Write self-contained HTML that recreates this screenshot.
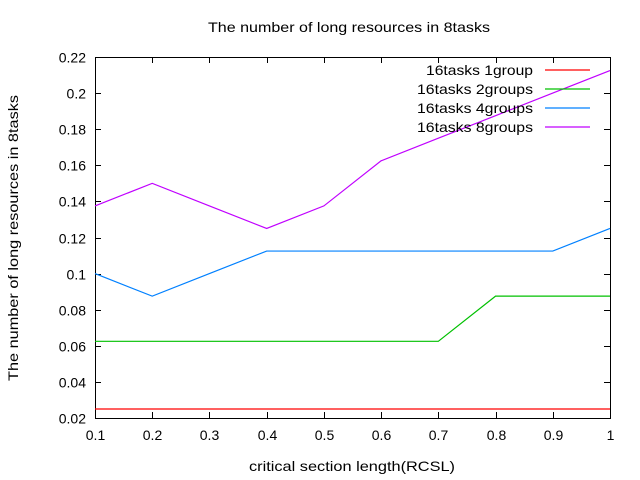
<!DOCTYPE html>
<html><head><meta charset="utf-8"><style>
body{margin:0;background:#fff;}
svg{display:block;font-family:"Liberation Sans",sans-serif;}
</style></head><body>
<svg id="c" width="640" height="480" xmlns="http://www.w3.org/2000/svg">
<text x="208" y="32" font-size="14" textLength="282" lengthAdjust="spacingAndGlyphs">The number of long resources in 8tasks</text>
<text x="249" y="471" font-size="14" textLength="206" lengthAdjust="spacingAndGlyphs">critical section length(RCSL)</text>
<text transform="translate(18,381) rotate(-90)" font-size="14" textLength="286" lengthAdjust="spacingAndGlyphs">The number of long resources in 8tasks</text>
<g id="axes"></g><g id="series"></g><g id="legend"></g>
</svg>
<script>
const xTicks=[0.1,0.2,0.3,0.4,0.5,0.6,0.7,0.8,0.9,1];
const xTickLabels=["0.1","0.2","0.3","0.4","0.5","0.6","0.7","0.8","0.9","1"];
const yTicks=[0.02,0.04,0.06,0.08,0.1,0.12,0.14,0.16,0.18,0.2,0.22];
const yTickLabels=["0.02","0.04","0.06","0.08","0.1","0.12","0.14","0.16","0.18","0.2","0.22"];
const xValues=[0.1,0.2,0.3,0.4,0.5,0.6,0.7,0.8,0.9,1];
const seriesNames=["16tasks 1group","16tasks 2groups","16tasks 4groups","16tasks 8groups"];
const s1=[0.025,0.025,0.025,0.025,0.025,0.025,0.025,0.025,0.025,0.025];
const s2=[0.0625,0.0625,0.0625,0.0625,0.0625,0.0625,0.0625,0.0875,0.0875,0.0875];
const s3=[0.1,0.0875,0.1,0.1125,0.1125,0.1125,0.1125,0.1125,0.1125,0.125];
const s4=[0.1375,0.15,0.1375,0.125,0.1375,0.1625,0.175,0.1875,0.2,0.2125];
const colors=["#ff0000","#00c000","#0080ff","#c000ff"];
const legendWidths=[107,116,116,116];
const L=95,R=610,T=57,B=418;
const xs=v=>L+(v-0.1)/0.9*(R-L);
const ys=v=>B-(v-0.02)/0.2*(B-T);
const NS="http://www.w3.org/2000/svg";
function mk(tag,attrs,parent){const e=document.createElementNS(NS,tag);for(const k in attrs)e.setAttribute(k,attrs[k]);parent.appendChild(e);return e;}
const ax=document.getElementById('axes');
const frame=mk('rect',{x:L+0.5,y:T+0.5,width:R-L,height:B-T,fill:'none',stroke:'#000','stroke-width':1},ax);


xTicks.forEach((v,i)=>{const x=Math.round(xs(v))+0.5;
 mk('line',{x1:x,y1:B,x2:x,y2:B-6,stroke:'#000'},ax);mk('line',{x1:x,y1:T,x2:x,y2:T+6,stroke:'#000'},ax);
 const t=mk('text',{x:x,y:B+22,'font-size':14,'text-anchor':'middle'},ax);t.textContent=xTickLabels[i];
 
 });
yTicks.forEach((v,i)=>{const y=Math.round(ys(v))+0.5;
 mk('line',{x1:L,y1:y,x2:L+6,y2:y,stroke:'#000'},ax);mk('line',{x1:R,y1:y,x2:R-6,y2:y,stroke:'#000'},ax);
 const t=mk('text',{x:L-9,y:y+5,'font-size':14,'text-anchor':'end'},ax);t.textContent=yTickLabels[i];
 
 });
const sg=document.getElementById('series'),lg=document.getElementById('legend');
[s1,s2,s3,s4].forEach((s,i)=>{
 const d=s.map((v,j)=>(j?'L':'M')+xs(xValues[j]).toFixed(2)+' '+ys(v).toFixed(2)).join(' ');
 const p=mk('path',{d:d,fill:'none',stroke:colors[i],'stroke-width':1.2},sg);
 
 
 const y=70+i*19;
 const t=mk('text',{x:533-legendWidths[i],y:y+5,'font-size':14,textLength:legendWidths[i],lengthAdjust:'spacingAndGlyphs'},lg);t.textContent=seriesNames[i];
 
 
 const l=mk('line',{x1:545,y1:y,x2:590,y2:y,stroke:colors[i],'stroke-width':1.2},lg);
 
 
});
</script>
</body></html>
